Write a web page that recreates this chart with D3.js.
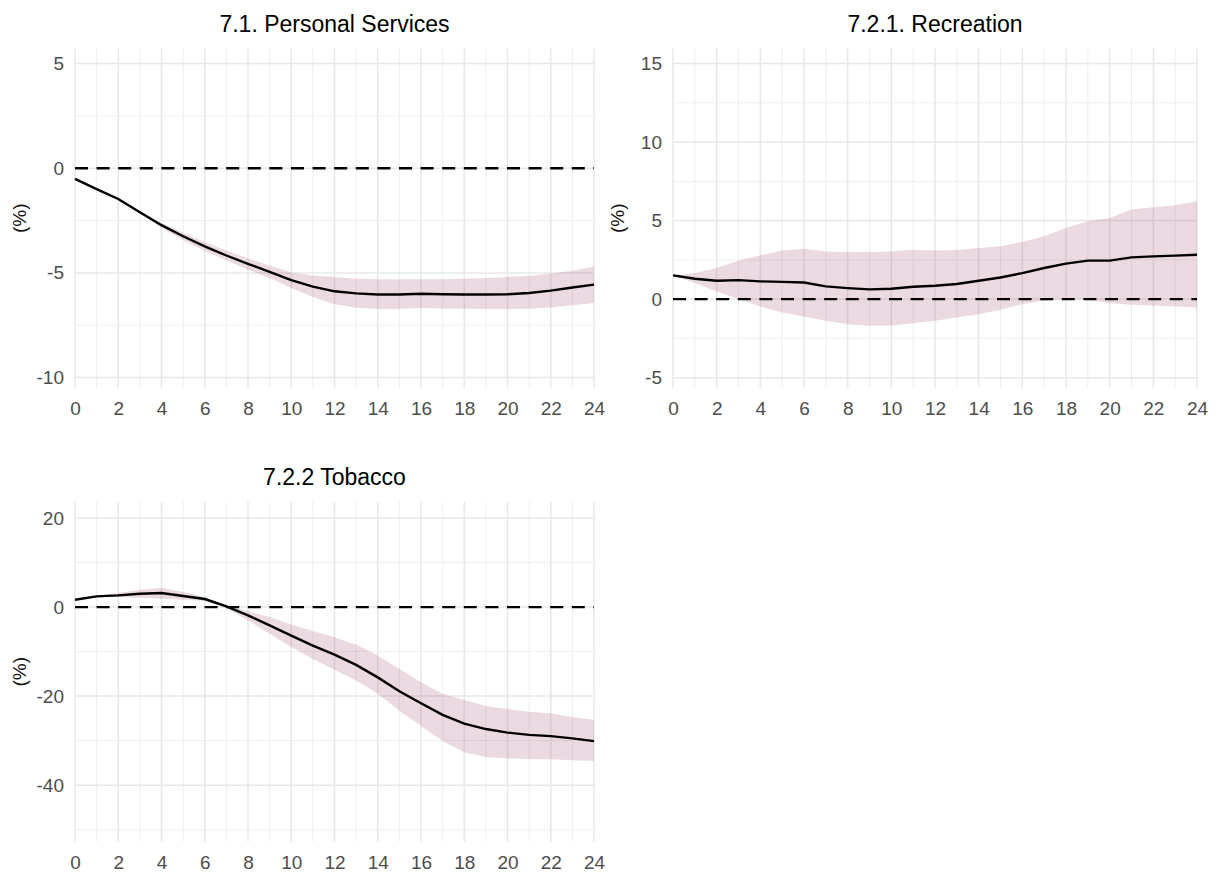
<!DOCTYPE html>
<html>
<head>
<meta charset="utf-8">
<script src="https://cdn.jsdelivr.net/npm/d3@7"></script>
<style>
  body { margin: 0; background: #fff; }
  svg { font-family: "Liberation Sans", Arial, sans-serif; }
</style>
</head>
<body>
<div id="chart-area"></div>
<script>
// horizons (months after the shock)
const horizons = [0, 1, 2, 3, 4, 5, 6, 7, 8, 9, 10, 11, 12, 13, 14, 15, 16, 17, 18, 19, 20, 21, 22, 23, 24]
const xTicks = [0, 2, 4, 6, 8, 10, 12, 14, 16, 18, 20, 22, 24]
const xMinor = [1, 3, 5, 7, 9, 11, 13, 15, 17, 19, 21, 23]

// 7.1. Personal Services
const personalMean = [-0.51, -1.0, -1.47, -2.1, -2.72, -3.25, -3.73, -4.17, -4.57, -4.95, -5.35, -5.66, -5.88, -5.98, -6.03, -6.03, -6.0, -6.02, -6.03, -6.03, -6.02, -5.96, -5.85, -5.7, -5.56]
const personalUpper = [-0.5, -0.97, -1.43, -2.04, -2.62, -3.08, -3.53, -3.93, -4.3, -4.65, -4.98, -5.12, -5.2, -5.28, -5.31, -5.31, -5.3, -5.3, -5.28, -5.25, -5.2, -5.14, -5.04, -4.9, -4.7]
const personalLower = [-0.52, -1.04, -1.51, -2.16, -2.85, -3.44, -3.95, -4.4, -4.85, -5.25, -5.72, -6.15, -6.5, -6.66, -6.72, -6.72, -6.68, -6.7, -6.71, -6.72, -6.73, -6.71, -6.65, -6.55, -6.44]
const personalTicks = [-10, -5, 0, 5]
const personalMinor = [-7.5, -2.5, 2.5]

// 7.2.1. Recreation
const recreationMean = [1.51, 1.3, 1.17, 1.21, 1.13, 1.1, 1.06, 0.81, 0.7, 0.62, 0.66, 0.79, 0.85, 0.96, 1.17, 1.38, 1.66, 1.98, 2.26, 2.45, 2.45, 2.66, 2.72, 2.77, 2.83]
const recreationUpper = [1.51, 1.66, 1.98, 2.45, 2.79, 3.09, 3.21, 3.04, 3.0, 3.0, 3.04, 3.15, 3.09, 3.13, 3.26, 3.36, 3.64, 4.0, 4.53, 4.96, 5.17, 5.7, 5.85, 5.98, 6.23]
const recreationLower = [1.51, 1.02, 0.49, 0.0, -0.47, -0.85, -1.1, -1.38, -1.6, -1.7, -1.68, -1.53, -1.38, -1.17, -0.96, -0.68, -0.32, -0.1, 0.0, -0.04, -0.26, -0.36, -0.43, -0.47, -0.53]
const recreationTicks = [-5, 0, 5, 10, 15]
const recreationMinor = [-2.5, 2.5, 7.5, 12.5]

// 7.2.2 Tobacco
const tobaccoMean = [1.65, 2.4, 2.63, 3.0, 3.16, 2.48, 1.8, 0.15, -1.88, -4.1, -6.4, -8.65, -10.7, -13.0, -15.8, -18.9, -21.6, -24.2, -26.2, -27.4, -28.2, -28.7, -29.0, -29.5, -30.1]
const tobaccoUpper = [1.65, 2.55, 3.16, 3.9, 4.36, 3.38, 2.26, 0.3, -0.9, -2.26, -3.9, -5.4, -6.77, -8.4, -10.9, -13.9, -16.9, -19.5, -20.9, -22.2, -22.9, -23.5, -23.9, -24.7, -25.3]
const tobaccoLower = [1.65, 2.26, 2.26, 2.1, 1.88, 1.65, 1.35, -0.15, -3.0, -6.0, -9.0, -11.65, -14.1, -16.5, -19.5, -23.3, -26.7, -30.1, -32.6, -33.7, -34.0, -34.1, -34.2, -34.4, -34.6]
const tobaccoTicks = [-40, -20, 0, 20]
const tobaccoMinor = [-50, -30, -10, 10]

const svg = d3.select("#chart-area").append("svg")
	.attr("width", 1220)
	.attr("height", 872)

const panels = [
	{title: "7.1. Personal Services", mean: personalMean, upper: personalUpper, lower: personalLower,
		ticks: personalTicks, minor: personalMinor, domain: [-10.5, 5.72],
		left: 75, right: 594, top: 48.5, bottom: 388},
	{title: "7.2.1. Recreation", mean: recreationMean, upper: recreationUpper, lower: recreationLower,
		ticks: recreationTicks, minor: recreationMinor, domain: [-5.66, 15.96],
		left: 673, right: 1197, top: 48.5, bottom: 388},
	{title: "7.2.2 Tobacco", mean: tobaccoMean, upper: tobaccoUpper, lower: tobaccoLower,
		ticks: tobaccoTicks, minor: tobaccoMinor, domain: [-52.7, 23.66],
		left: 75, right: 594, top: 501.7, bottom: 841.7}
]

function drawPanel(p) {
	const x = d3.scaleLinear().domain([0, 24]).range([p.left, p.right])
	const y = d3.scaleLinear().domain(p.domain).range([p.bottom, p.top])
	const g = svg.append("g")

	// grid lines (minor thinner)
	g.selectAll(".vminor").data(xMinor).enter().append("line")
		.attr("x1", d => x(d)).attr("x2", d => x(d))
		.attr("y1", p.top).attr("y2", p.bottom)
		.attr("stroke", "#eeeeee").attr("stroke-width", 1)
	g.selectAll(".hminor").data(p.minor).enter().append("line")
		.attr("x1", p.left).attr("x2", p.right)
		.attr("y1", d => y(d)).attr("y2", d => y(d))
		.attr("stroke", "#eeeeee").attr("stroke-width", 1)
	g.selectAll(".vmajor").data(xTicks).enter().append("line")
		.attr("x1", d => x(d)).attr("x2", d => x(d))
		.attr("y1", p.top).attr("y2", p.bottom)
		.attr("stroke", "#e8e8e8").attr("stroke-width", 1.5)
	g.selectAll(".hmajor").data(p.ticks).enter().append("line")
		.attr("x1", p.left).attr("x2", p.right)
		.attr("y1", d => y(d)).attr("y2", d => y(d))
		.attr("stroke", "#e8e8e8").attr("stroke-width", 1.5)

	// confidence band
	const area = d3.area()
		.x((d, i) => x(horizons[i]))
		.y0((d, i) => y(p.lower[i]))
		.y1((d, i) => y(p.upper[i]))
	g.append("path")
		.datum(p.mean)
		.attr("d", area)
		.attr("fill", "#a04870")
		.attr("fill-opacity", 0.2)

	// zero line
	g.append("line")
		.attr("x1", x(0)).attr("x2", x(24))
		.attr("y1", y(0)).attr("y2", y(0))
		.attr("stroke", "#000")
		.attr("stroke-width", 2.3)
		.attr("stroke-dasharray", "13,8.6")

	// response
	const line = d3.line()
		.x((d, i) => x(horizons[i]))
		.y(d => y(d))
	g.append("path")
		.datum(p.mean)
		.attr("d", line)
		.attr("fill", "none")
		.attr("stroke", "#000")
		.attr("stroke-width", 2.4)

	// axes (plain hyphen for negatives, as in the original)
	const yAxis = g.append("g")
		.attr("transform", `translate(${p.left}, 0)`)
		.call(d3.axisLeft(y).tickValues(p.ticks).tickSize(0).tickPadding(11).tickFormat(d => String(d)))
	const xAxis = g.append("g")
		.attr("transform", `translate(0, ${p.bottom})`)
		.call(d3.axisBottom(x).tickValues(xTicks).tickSize(0).tickPadding(14).tickFormat(d => String(d)))
	;[yAxis, xAxis].forEach(a => {
		a.select(".domain").remove()
		a.selectAll("text")
			.attr("font-size", "19px")
			.attr("font-family", "Liberation Sans, Arial, sans-serif")
			.attr("fill", "#4d4d4d")
	})

	// title
	g.append("text")
		.attr("x", (p.left + p.right) / 2)
		.attr("y", p.top - 16.5)
		.attr("text-anchor", "middle")
		.attr("font-size", "23px")
		.attr("fill", "#000")
		.text(p.title)

	// y label
	g.append("text")
		.attr("transform", `translate(${p.left - 56}, ${(p.top + p.bottom) / 2}) rotate(-90)`)
		.attr("text-anchor", "middle")
		.attr("dy", "0.35em")
		.attr("font-size", "19px")
		.attr("fill", "#111")
		.text("(%)")
}

panels.forEach(drawPanel)
</script>
</body>
</html>
